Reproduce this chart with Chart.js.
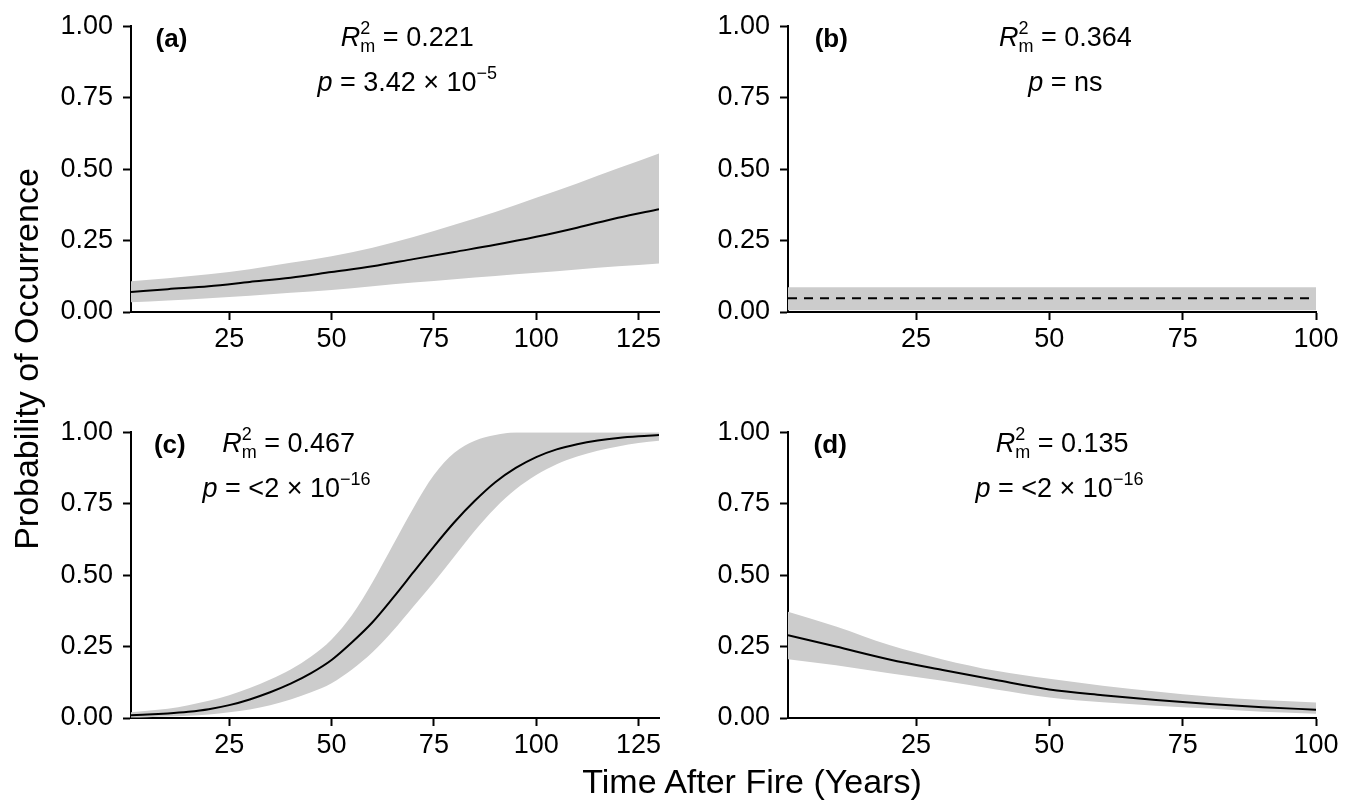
<!DOCTYPE html>
<html>
<head>
<meta charset="utf-8">
<script src="https://cdn.jsdelivr.net/npm/chart.js@4.4.0/dist/chart.umd.min.js"></script>
<style>
  body { margin: 0; background: #fff; }
  #fig { position: relative; width: 1367px; height: 801px; overflow: hidden;
         font-family: "Liberation Sans", Arial, sans-serif; color: #000; }
  canvas { position: absolute; }
  .title { position: absolute; font-size: 34px; line-height: 34px; text-align: center; white-space: nowrap; }
  #ytitle { width: 400px; height: 34px; left: -174px; top: 342px; transform: rotate(-90deg); }
  #xtitle { width: 500px; height: 34px; left: 502px; top: 764px; }
</style>
</head>
<body>
<div id="fig">
  <canvas id="chartA" width="680" height="370" style="left:0;top:0"></canvas>
  <canvas id="chartB" width="687" height="370" style="left:680px;top:0"></canvas>
  <canvas id="chartC" width="680" height="370" style="left:0;top:406px"></canvas>
  <canvas id="chartD" width="687" height="370" style="left:680px;top:406px"></canvas>
  <div class="title" id="ytitle">Probability of Occurrence</div>
  <div class="title" id="xtitle">Time After Fire (Years)</div>
</div>
<script>
const FONT = '"Liberation Sans", Arial, sans-serif';

// panel (a)
let xA   = [1, 10, 20, 30, 40, 50, 60, 70, 80, 90, 100, 110, 120, 130];
let fitA = [0.07, 0.08, 0.09, 0.105, 0.12, 0.14, 0.16, 0.185, 0.21, 0.235, 0.263, 0.295, 0.33, 0.36];
let upA  = [0.108, 0.118, 0.132, 0.15, 0.172, 0.195, 0.225, 0.262, 0.305, 0.35, 0.40, 0.45, 0.503, 0.555];
let lowA = [0.034, 0.04, 0.048, 0.057, 0.067, 0.077, 0.09, 0.103, 0.115, 0.126, 0.137, 0.149, 0.16, 0.17];

// panel (b)
let xB   = [1, 100];
let fitB = [0.048, 0.048];
let upB  = [0.087, 0.087];
let lowB = [0.006, 0.006];

// panel (c)
let xC   = [1, 5, 10, 15, 20, 25, 30, 35, 40, 45, 50, 55, 60, 65, 70, 75, 80, 85, 90, 95, 100, 105, 110, 115, 120, 125, 130];
let fitC = [0.01, 0.012, 0.016, 0.022, 0.031, 0.045, 0.065, 0.09, 0.12, 0.157, 0.203, 0.265, 0.335, 0.42, 0.51, 0.60, 0.685, 0.76, 0.825, 0.875, 0.913, 0.94, 0.958, 0.971, 0.98, 0.986, 0.99];
let upC  = [0.02, 0.025, 0.032, 0.045, 0.06, 0.08, 0.105, 0.135, 0.17, 0.215, 0.275, 0.36, 0.475, 0.605, 0.735, 0.85, 0.928, 0.97, 0.99, 1.0, 1.0, 1.0, 1.0, 1.0, 1.0, 1.0, 1.0];
let lowC = [0.002, 0.003, 0.005, 0.008, 0.012, 0.02, 0.03, 0.045, 0.065, 0.09, 0.122, 0.17, 0.23, 0.305, 0.39, 0.475, 0.565, 0.655, 0.735, 0.80, 0.85, 0.888, 0.915, 0.935, 0.95, 0.962, 0.97];

// panel (d)
let xD   = [1, 10, 20, 30, 40, 50, 60, 70, 80, 90, 100];
let fitD = [0.29, 0.25, 0.205, 0.168, 0.133, 0.10, 0.08, 0.063, 0.049, 0.038, 0.029];
let upD  = [0.372, 0.32, 0.255, 0.205, 0.165, 0.137, 0.113, 0.093, 0.075, 0.063, 0.054];
let lowD = [0.206, 0.185, 0.157, 0.13, 0.10, 0.072, 0.055, 0.043, 0.033, 0.022, 0.015];

let ticks130 = [25, 50, 75, 100, 125];
let ticks100 = [25, 50, 75, 100];
let yTicks = [0, 0.25, 0.5, 0.75, 1];

// draws the (a) tag, the R^2_m line and the p line inside each panel
const panelText = {
  id: 'panelText',
  afterDatasetsDraw(chart, args, o) {
    if (!o || !o.tag) return;
    let ctx = chart.ctx, sx = chart.scales.x, sy = chart.scales.y;
    ctx.save();
    ctx.fillStyle = '#000';
    ctx.textBaseline = 'alphabetic';
    ctx.textAlign = 'left';
    ctx.font = 'bold 26px ' + FONT;
    ctx.fillText(o.tag, sx.getPixelForValue(o.tagX), sy.getPixelForValue(0.926));

    let main = '27px ' + FONT, ital = 'italic 27px ' + FONT, small = '18px ' + FONT;
    function drawLine(parts, cx, y) {
      let w = 0;
      parts.forEach(p => {
        ctx.font = p.font;
        p.w = Math.max.apply(null, p.txt.map(t => ctx.measureText(t).width));
        w += p.w;
      });
      let x = cx - w / 2;
      parts.forEach(p => {
        ctx.font = p.font;
        p.txt.forEach((t, i) => ctx.fillText(t, x, y + p.dy[i]));
        x += p.w;
      });
    }
    drawLine([
      { font: ital, txt: ['R'], dy: [0] },
      { font: small, txt: ['2', 'm'], dy: [-12, 6] },
      { font: main, txt: [' = ' + o.r2], dy: [0] }
    ], sx.getPixelForValue(o.r2X), sy.getPixelForValue(0.931));

    let pParts = [
      { font: ital, txt: ['p'], dy: [0] },
      { font: main, txt: [' = ' + o.p], dy: [0] }
    ];
    if (o.pExp) pParts.push({ font: small, txt: [o.pExp], dy: [-12] });
    drawLine(pParts, sx.getPixelForValue(o.pX), sy.getPixelForValue(0.772));
    ctx.restore();
  }
};

function pts(xs, ys) {
  return xs.map((x, i) => ({ x: x, y: ys[i] }));
}

function makePanel(id, xs, fit, low, up, xMax, xTicks, yWidth, padRight, dashed, text) {
  let tickFont = { family: FONT, size: 27 };
  new Chart(document.getElementById(id), {
    type: 'line',
    data: {
      datasets: [
        // fitted curve sits on top of the band
        { data: pts(xs, fit), order: 0, fill: false, borderColor: '#000', borderWidth: 2, pointRadius: 0,
          borderDash: dashed ? [9, 7] : [], cubicInterpolationMode: 'monotone' },
        { data: pts(xs, up), order: 1, fill: '+1', backgroundColor: '#cccccc', borderColor: 'rgba(0,0,0,0)',
          borderWidth: 0, pointRadius: 0, cubicInterpolationMode: 'monotone' },
        { data: pts(xs, low), order: 2, fill: false, borderColor: 'rgba(0,0,0,0)', borderWidth: 0,
          pointRadius: 0, cubicInterpolationMode: 'monotone' }
      ]
    },
    options: {
      responsive: false,
      animation: false,
      layout: { padding: { top: 21, right: padRight, left: 0, bottom: 0 } },
      plugins: { legend: { display: false }, tooltip: { enabled: false }, panelText: text },
      scales: {
        x: {
          type: 'linear', min: 1, max: xMax,
          afterBuildTicks: s => { s.ticks = xTicks.map(v => ({ value: v })); },
          afterFit: s => { s.height = 58; },
          grid: { drawOnChartArea: false, drawTicks: true, tickLength: 8, tickWidth: 2, tickColor: '#000' },
          border: { display: true, color: '#000', width: 2 },
          ticks: { color: '#000', font: tickFont, padding: 3, maxRotation: 0 }
        },
        y: {
          min: 0, max: 1,
          afterBuildTicks: s => { s.ticks = yTicks.map(v => ({ value: v })); },
          afterFit: s => { s.width = yWidth; },
          grid: { drawOnChartArea: false, drawTicks: true, tickLength: 8, tickWidth: 2, tickColor: '#000' },
          border: { display: true, color: '#000', width: 2 },
          ticks: { color: '#000', font: tickFont, padding: 10, callback: v => v.toFixed(2) }
        }
      }
    },
    plugins: [panelText]
  });
}

makePanel('chartA', xA, fitA, lowA, upA, 130, ticks130, 131, 21, false,
  { tag: '(a)', tagX: 7, r2: '0.221', r2X: 68.5, p: '3.42 × 10', pExp: '−5', pX: 68.5 });
makePanel('chartB', xB, fitB, lowB, upB, 100, ticks100, 108, 51, true,
  { tag: '(b)', tagX: 6, r2: '0.364', r2X: 53, p: 'ns', pExp: '', pX: 53 });
makePanel('chartC', xC, fitC, lowC, upC, 130, ticks130, 131, 21, false,
  { tag: '(c)', tagX: 6.6, r2: '0.467', r2X: 39.5, p: '<2 × 10', pExp: '−16', pX: 39 });
makePanel('chartD', xD, fitD, lowD, upD, 100, ticks100, 108, 51, false,
  { tag: '(d)', tagX: 5.8, r2: '0.135', r2X: 52.4, p: '<2 × 10', pExp: '−16', pX: 51.9 });
</script>
</body>
</html>
